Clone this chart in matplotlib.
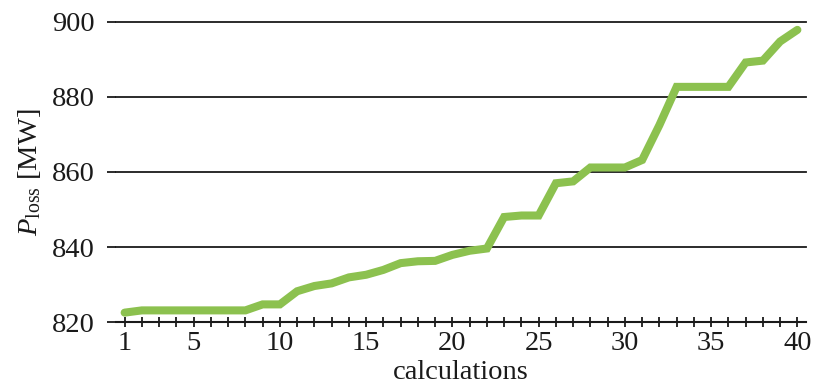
"""Power loss over successive calculations."""

import numpy as np
import matplotlib
matplotlib.use('Agg')
import matplotlib.pyplot as plt

plt.rcParams['font.family'] = ['Liberation Serif', 'DejaVu Serif']
plt.rcParams['mathtext.fontset'] = 'custom'
plt.rcParams['mathtext.rm'] = 'Liberation Serif'
plt.rcParams['mathtext.it'] = 'Liberation Serif:italic'

calculations = np.arange(1, 41)
p_loss = [822.5, 823.1, 823.1, 823.1, 823.1, 823.1, 823.1, 823.1, 824.7, 824.7,
          828.2, 829.6, 830.3, 831.9, 832.6, 833.9, 835.7, 836.2, 836.3, 837.9,
          839.0, 839.6, 848.0, 848.4, 848.4, 857.0, 857.5, 861.2, 861.2, 861.2,
          863.2, 872.5, 882.7, 882.7, 882.7, 882.7, 889.2, 889.7, 894.8, 897.9]
labelled = [1, 5, 10, 15, 20, 25, 30, 35, 40]
y_ticks = [820, 840, 860, 880, 900]

fig = plt.figure(figsize=(8.13, 3.85), dpi=100)
ax = fig.add_axes([0.1427, 0.1636, 0.8487, 0.7793])

for y in y_ticks[1:]:
    ax.axhline(y, color='#1a1a1a', lw=1.3, zorder=1, clip_on=False)

ax.plot(calculations, p_loss, color='#8cc14f', lw=5.8,
        solid_capstyle='round', solid_joinstyle='miter', zorder=3,
        clip_on=False)

ax.set_xlim(0.5, 40.5)
ax.set_ylim(820, 900)
ax.set_yticks(y_ticks)
ax.set_xticks(calculations)
ax.set_xticklabels([str(c) if c in labelled else '' for c in calculations])

for side in ('top', 'right', 'left'):
    ax.spines[side].set_visible(False)
ax.spines['bottom'].set_linewidth(1.5)
ax.spines['bottom'].set_color('#1a1a1a')

ax.tick_params(axis='x', direction='inout', length=7, width=1.3,
               pad=3, labelsize=20.5, colors='#1a1a1a')
ax.tick_params(axis='y', direction='out', length=6.5, width=1.3,
               pad=9, labelsize=20.5, colors='#1a1a1a')

ax.set_xlabel('calculations', fontsize=20.5, labelpad=3, color='#1a1a1a')
ax.set_ylabel(r'$P_{\rm loss}$ [MW]', fontsize=20.5, labelpad=6, color='#1a1a1a')

fig.savefig('out.png', dpi=100)
